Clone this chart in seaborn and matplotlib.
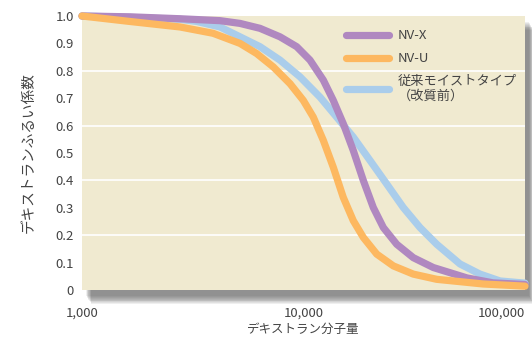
import numpy as np
import pandas as pd
import matplotlib
matplotlib.use("Agg")
import matplotlib.pyplot as plt
from matplotlib.patches import Rectangle
import seaborn as sns

# values (dextran molecular weight vs sieving coefficient)
nvx_mw = [1000, 1647, 2770, 4198, 5168, 6362, 7834, 9318, 10700, 12290, 13630,
          15120, 16780, 18620, 20660, 22930, 26350, 31310, 38550, 54720, 71730, 100000]
nvx_sc = [1.00, 0.997, 0.99, 0.983, 0.973, 0.955, 0.924, 0.888, 0.839, 0.766, 0.692,
          0.607, 0.509, 0.40, 0.301, 0.228, 0.167, 0.118, 0.082, 0.044, 0.026, 0.02]

nvu_mw = [1000, 1647, 2770, 3904, 5168, 6146, 7306, 8693, 9979, 11070, 12290,
          13630, 15120, 16780, 18620, 21410, 25440, 31310, 39940, 64640, 100000]
nvu_sc = [1.00, 0.98, 0.96, 0.937, 0.90, 0.863, 0.814, 0.753, 0.692, 0.631, 0.546,
          0.448, 0.338, 0.253, 0.192, 0.131, 0.088, 0.058, 0.039, 0.022, 0.014]

old_mw = [1000, 1647, 2770, 3305, 4198, 5168, 6362, 7834, 9643, 11870, 14120,
          16780, 19960, 23750, 28220, 33570, 39940, 50880, 62640, 77120, 100000]
old_sc = [1.00, 0.995, 0.988, 0.98, 0.96, 0.924, 0.888, 0.839, 0.778, 0.704, 0.631,
          0.558, 0.473, 0.387, 0.301, 0.228, 0.167, 0.095, 0.058, 0.033, 0.025]

series_names = ["NV-X", "NV-U", "従来モイストタイプ\n（改質前）"]
series_colors = ["#B088C0", "#FDB860", "#AACDEB"]

y_ticks = [0, 0.1, 0.2, 0.3, 0.4, 0.5, 0.6, 0.7, 0.8, 0.9, 1.0]
y_ticklabels = ["0", "0.1", "0.2", "0.3", "0.4", "0.5", "0.6", "0.7", "0.8", "0.9", "1.0"]
x_ticks = [1000, 10000, 100000]
x_ticklabels = ["1,000", "10,000", "100,000"]

sns.set_style("white")
plt.rcParams['font.family'] = ['Noto Sans CJK JP', 'DejaVu Sans']

W, H = 532, 338
fig = plt.figure(figsize=(W / 100, H / 100), dpi=100)
ax_l, ax_r, ax_t, ax_b = 82, 525, 16, 290
ax = fig.add_axes([ax_l / W, (H - ax_b) / H, (ax_r - ax_l) / W, (ax_b - ax_t) / H])
ax.set_facecolor("#F0EAD0")

# soft drop shadow behind the plot area
for i in range(10):
    off_x, off_y = 4 + i * 0.6, 6 + i * 0.9
    r = Rectangle(((ax_l + off_x) / W, (H - ax_b - off_y) / H),
                  (ax_r - ax_l) / W, (ax_b - ax_t) / H,
                  transform=fig.transFigure, facecolor="#4a4a4a", alpha=0.085,
                  edgecolor="none", zorder=-2)
    fig.patches.append(r)

frames = {
    series_names[0]: (nvx_mw, nvx_sc),
    series_names[1]: (nvu_mw, nvu_sc),
    series_names[2]: (old_mw, old_sc),
}
z = {series_names[2]: 3, series_names[0]: 4, series_names[1]: 5}
handles = {}
for name, color in zip(series_names, series_colors):
    mw, sc = frames[name]
    d = pd.DataFrame({"mw": mw, "sc": sc})
    sns.lineplot(data=d, x="mw", y="sc", ax=ax, color=color, linewidth=5.2,
                 estimator=None, zorder=z[name])
    ln = ax.lines[-1]
    ln.set_solid_capstyle("round")
    ln.set_solid_joinstyle("round")
    ln.set_clip_on(False)
    handles[name] = ln

ax.set_xscale("log")
ax.set_xlim(1000, 100000)
ax.set_ylim(0, 1.0)
ax.set_yticks(y_ticks)
ax.set_yticklabels(y_ticklabels)
ax.set_xticks(x_ticks)
ax.set_xticklabels(x_ticklabels)
ax.minorticks_off()
ax.tick_params(axis="both", length=0, labelsize=9.5, colors="#444444")
ax.tick_params(axis="y", pad=6)
ax.tick_params(axis="x", pad=12)
xl = ax.get_xticklabels()
xl[-1].set_horizontalalignment("right")

for gy in [0.2, 0.4, 0.6, 0.8]:
    ax.axhline(gy, color="white", linewidth=1.2, zorder=1)
for s in ax.spines.values():
    s.set_visible(False)

ax.set_xlabel("デキストラン分子量", fontsize=9, color="#444444", labelpad=2)
ax.set_ylabel("デキストランふるい係数", fontsize=10.5, color="#444444", labelpad=14)

leg = ax.legend([handles[n] for n in series_names], series_names,
                loc="upper left", bbox_to_anchor=(0.569, 0.995), frameon=False,
                handlelength=3.3, labelspacing=0.75, handletextpad=0.62,
                fontsize=9.5)
for t in leg.get_texts():
    t.set_color("#444444")

fig.savefig("out.png", dpi=100)
